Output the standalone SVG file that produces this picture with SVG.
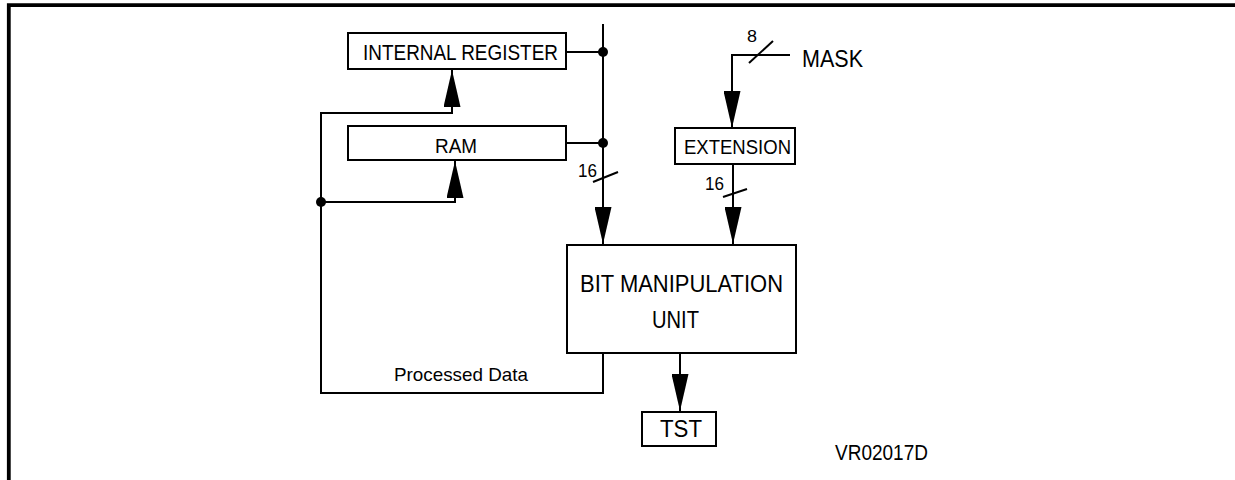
<svg xmlns="http://www.w3.org/2000/svg" width="1235" height="480" viewBox="0 0 1235 480">
  <style>
    .box { fill: #fff; stroke: #000; stroke-width: 2; }
    .wire { fill: none; stroke: #000; stroke-width: 2; }
    .arrow { fill: none; stroke: #000; stroke-width: 2; marker-end: url(#ah); }
    .dot { fill: #000; }
    .t { font-family: "Liberation Sans", Arial, sans-serif; fill: #000; }
    .frame { fill: none; stroke: #000; stroke-width: 3.8; }
  </style>
  <defs>
    <marker id="ah" markerUnits="userSpaceOnUse" markerWidth="37" markerHeight="17" refX="37" refY="8.5" orient="auto" viewBox="0 0 37 17">
      <path d="M0,0 L37,8.5 L0,17 z" fill="#000"/>
    </marker>
  </defs>
  <rect width="1235" height="480" fill="#fff"/>
  <path class="frame" d="M8.8,480 V5.2 H1235"/>

  <g id="connectors">
    <line class="arrow" x1="603" y1="24" x2="603" y2="244"/>
    <line class="wire" x1="566" y1="52" x2="603" y2="52"/>
    <line class="wire" x1="566" y1="143" x2="603" y2="143"/>
    <circle class="dot" cx="603" cy="52" r="5"/>
    <circle class="dot" cx="603" cy="143" r="5"/>
    <line class="wire" x1="593" y1="182" x2="618" y2="172"/>
    <text class="t" x="578" y="177" font-size="18" textLength="19" lengthAdjust="spacingAndGlyphs">16</text>

    <path class="arrow" d="M603,353 V393 H321 V113 H452 V70"/>
    <path class="arrow" d="M321,202 H455 V161"/>
    <circle class="dot" cx="321" cy="202" r="5"/>
    <text class="t" x="394" y="381" font-size="19" textLength="134" lengthAdjust="spacingAndGlyphs">Processed Data</text>

    <path class="arrow" d="M790,55 H732 V128"/>
    <line class="wire" x1="749" y1="63" x2="773" y2="41"/>
    <text class="t" x="747" y="42" font-size="17" textLength="10" lengthAdjust="spacingAndGlyphs">8</text>
    <text class="t" x="802" y="67" font-size="23" textLength="61" lengthAdjust="spacingAndGlyphs">MASK</text>

    <line class="arrow" x1="733" y1="164" x2="733" y2="244"/>
    <line class="wire" x1="723" y1="197" x2="747" y2="189"/>
    <text class="t" x="705" y="190" font-size="18" textLength="19" lengthAdjust="spacingAndGlyphs">16</text>

    <line class="arrow" x1="680" y1="353" x2="680" y2="411"/>
  </g>

  <g id="internal-register">
    <rect class="box" x="348" y="33" width="218" height="36"/>
    <text class="t" x="363" y="60" font-size="22" textLength="195" lengthAdjust="spacingAndGlyphs">INTERNAL REGISTER</text>
  </g>
  <g id="ram">
    <rect class="box" x="348" y="126" width="218" height="34"/>
    <text class="t" x="435" y="153" font-size="21" textLength="42" lengthAdjust="spacingAndGlyphs">RAM</text>
  </g>
  <g id="extension">
    <rect class="box" x="675" y="128" width="120" height="36"/>
    <text class="t" x="684" y="154" font-size="20" textLength="107" lengthAdjust="spacingAndGlyphs">EXTENSION</text>
  </g>
  <g id="bit-manipulation-unit">
    <rect class="box" x="567" y="245" width="229" height="108"/>
    <text class="t" x="580" y="292" font-size="24" textLength="203" lengthAdjust="spacingAndGlyphs">BIT MANIPULATION</text>
    <text class="t" x="652" y="328" font-size="24" textLength="47" lengthAdjust="spacingAndGlyphs">UNIT</text>
  </g>
  <g id="tst">
    <rect class="box" x="642" y="412" width="74" height="34"/>
    <text class="t" x="660" y="437" font-size="23" textLength="42" lengthAdjust="spacingAndGlyphs">TST</text>
  </g>
  <text class="t" x="835" y="460" font-size="22" textLength="93" lengthAdjust="spacingAndGlyphs">VR02017D</text>
</svg>
